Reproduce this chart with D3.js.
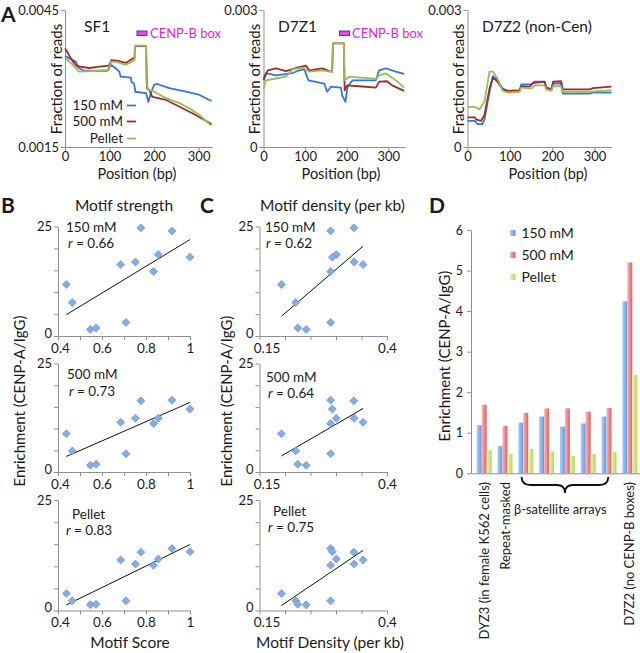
<!DOCTYPE html>
<html><head><meta charset="utf-8">
<script src="https://cdn.jsdelivr.net/npm/d3@7"></script>
<style>body{margin:0;background:#fff} svg{display:block;font-family:Lato,'Open Sans',sans-serif}</style>
</head><body><svg id="c" width="640" height="653"></svg>
<script>
// ---------------- DATA ----------------
const seriesNames = ["150 mM", "500 mM", "Pellet"];
// Panel A: [position (bp), fraction of reads]
const sf1_150 = [[0,0.00349],[24,0.00337],[31,0.00323],[43,0.00317],[95,0.00317],[103,0.00330],[113,0.00323],[122,0.00315],[125,0.00304],[148,0.00302],[149,0.00293],[155,0.00289],[158,0.00271],[182,0.00268],[187,0.00249],[193,0.00268],[200,0.00286],[207,0.00288],[234,0.00279],[272,0.00271],[302,0.00264],[324,0.00253],[329,0.00251]];
const sf1_500 = [[0,0.00366],[5,0.00358],[9,0.00351],[20,0.00334],[27,0.00327],[54,0.00323],[77,0.00326],[99,0.00328],[104,0.00340],[117,0.00339],[137,0.00334],[151,0.00343],[156,0.00345],[157,0.00371],[182,0.00371],[184,0.00279],[189,0.00275],[196,0.00260],[227,0.00253],[257,0.00238],[286,0.00224],[324,0.00203],[329,0.00200]];
const sf1_pel = [[0,0.00345],[13,0.00334],[24,0.00323],[31,0.00315],[77,0.00317],[99,0.00319],[104,0.00337],[117,0.00336],[137,0.00330],[151,0.00337],[156,0.00340],[157,0.00372],[182,0.00372],[183,0.00290],[187,0.00275],[200,0.00271],[227,0.00257],[257,0.00246],[279,0.00235],[302,0.00220],[324,0.00200],[329,0.00198]];
const d7z1_150 = [[0,0.00151],[6,0.00162],[30,0.00157],[70,0.00162],[86,0.00168],[98,0.00170],[108,0.00146],[146,0.00139],[153,0.00121],[162,0.00132],[186,0.00130],[189,0.00113],[197,0.00099],[202,0.00132],[214,0.00146],[270,0.00146],[278,0.00168],[294,0.00172],[318,0.00165],[338,0.00160]];
const d7z1_500 = [[0,0.00146],[10,0.00168],[30,0.00172],[54,0.00166],[78,0.00173],[102,0.00178],[110,0.00168],[141,0.00172],[158,0.00166],[165,0.00165],[167,0.00227],[193,0.00227],[195,0.00124],[201,0.00135],[230,0.00133],[270,0.00130],[278,0.00143],[297,0.00144],[309,0.00135],[338,0.00123]];
const d7z1_pel = [[0,0.00128],[6,0.00146],[30,0.00150],[54,0.00154],[70,0.00170],[94,0.00174],[110,0.00165],[141,0.00168],[158,0.00165],[165,0.00165],[167,0.00227],[193,0.00227],[195,0.00146],[206,0.00154],[270,0.00149],[278,0.00157],[294,0.00161],[318,0.00146],[338,0.00130]];
const d7z2_150 = [[0,0.00057],[17,0.00057],[24,0.00050],[35,0.00050],[40,0.00060],[52,0.00121],[60,0.00155],[71,0.00146],[83,0.00128],[95,0.00123],[123,0.00124],[127,0.00137],[151,0.00137],[158,0.00143],[182,0.00143],[186,0.00130],[198,0.00126],[202,0.00139],[221,0.00139],[225,0.00117],[288,0.00117],[296,0.00119],[340,0.00119]];
const d7z2_500 = [[0,0.00065],[17,0.00065],[21,0.00060],[32,0.00057],[40,0.00070],[52,0.00128],[60,0.00152],[71,0.00143],[83,0.00126],[95,0.00123],[123,0.00124],[127,0.00133],[147,0.00132],[154,0.00140],[182,0.00143],[186,0.00130],[198,0.00126],[202,0.00143],[221,0.00144],[225,0.00126],[288,0.00126],[296,0.00129],[340,0.00132]];
const d7z2_pel = [[0,0.00088],[17,0.00088],[28,0.00082],[40,0.00099],[52,0.00165],[60,0.00165],[71,0.00150],[83,0.00123],[95,0.00119],[123,0.00121],[127,0.00130],[151,0.00128],[158,0.00135],[182,0.00135],[186,0.00126],[198,0.00123],[202,0.00133],[221,0.00133],[225,0.00121],[288,0.00121],[340,0.00124]];
const posTicks = [0, 100, 200, 300];

// Panels B & C: one entry per array
const motifScore   = [0.438, 0.465, 0.547, 0.573, 0.685, 0.709, 0.752, 0.777, 0.834, 0.856, 0.918, 1.0];
const motifDensity = [0.193, 0.221, 0.2415, 0.225, 0.353, 0.2895, 0.3356, 0.335, 0.2895, 0.3006, 0.2895, 0.2928];
const enrich150    = [11.75, 7.65, 1.5, 1.85, 16.3, 3.1, 16.9, 24.7, 14.7, 18.6, 24.0, 18.0];
const enrich500    = [8.8, 4.85, 1.55, 1.8, 11.45, 4.2, 12.4, 16.4, 11.15, 12.4, 16.55, 14.5];
const enrichPellet = [3.85, 2.19, 1.3, 1.4, 11.45, 2.19, 10.5, 13.2, 10.25, 11.65, 14.0, 13.3];
const rScore   = ["0.66", "0.73", "0.83"];
const rDensity = ["0.62", "0.64", "0.75"];
const enrichTicks = [0, 5, 10, 15, 20, 25];
const scoreTicks = [0.4, 0.5, 0.6, 0.7, 0.8, 0.9, 1.0];
const scoreTickLabels = ["0.4", "", "0.6", "", "0.8", "", "1"];
const densityTicks = [0.15, 0.2, 0.25, 0.3, 0.35, 0.4];
const densityTickLabels = ["0.15", "", "", "", "", "0.4"];

// Panel D
const barCategories = ["DYZ3 (in female K562 cells)", "Repeat-masked", "β1", "β2", "β3", "β4", "β5", "D7Z2 (no CENP-B boxes)"];
const barLabels = ["DYZ3 (in female K562 cells)", "Repeat-masked", "", "", "", "", "", "D7Z2 (no CENP-B boxes)"];
const bar150    = [1.19, 0.67, 1.25, 1.40, 1.15, 1.23, 1.40, 4.24];
const bar500    = [1.69, 1.17, 1.49, 1.60, 1.60, 1.52, 1.61, 5.20];
const barPellet = [0.57, 0.48, 0.60, 0.54, 0.43, 0.48, 0.53, 2.43];
const barTicks = [0, 1, 2, 3, 4, 5, 6];

// ---------------- DRAWING ----------------
const svg = d3.select("#c");
const AX = "#8f8f8f", TXT = "#1a1a1a";
const lineColors = ["#2f78e0", "#a32a2a", "#9bbb59"];

function styleAxis(g, fs) {
  g.selectAll(".domain").attr("stroke", AX).attr("stroke-width", 1);
  g.selectAll(".tick line").attr("stroke", AX);
  g.selectAll(".tick text").attr("fill", TXT).style("font-size", (fs || 13) + "px").style("font-family", "Lato, sans-serif");
}
function txt(x, y, s, fs, opts) {
  opts = opts || {};
  const t = svg.append("text").attr("x", x).attr("y", y).text(s)
    .attr("fill", opts.fill || TXT).style("font-size", fs + "px")
    .attr("text-anchor", opts.anchor || "start");
  if (opts.bold) t.style("font-weight", "bold");
  if (opts.rot) t.attr("transform", `rotate(-90,${x},${y})`);
  return t;
}

// ---- Panel A ----
const aPanels = [
  {title: "SF1", titleX: 84, data: [sf1_150, sf1_500, sf1_pel], xmax: 330, x0: 65, x1: 212, ydom: [0.0015, 0.0045], ylabX: 61.5, xlabX: 137, box: [137, 150], legend: true},
  {title: "D7Z1", titleX: 278, data: [d7z1_150, d7z1_500, d7z1_pel], xmax: 340, x0: 263.5, x1: 405, ydom: [0, 0.003], ylabX: 260, xlabX: 341, box: [339.5, 352]},
  {title: "D7Z2 (non-Cen)", titleX: 482, data: [d7z2_150, d7z2_500, d7z2_pel], xmax: 340, x0: 467.5, x1: 611.5, ydom: [0, 0.003], ylabX: 464, xlabX: 548}
];
const aTop = 10, aBot = 147;
aPanels.forEach(p => {
  const x = d3.scaleLinear().domain([0, p.xmax]).range([p.x0, p.x1]);
  const y = d3.scaleLinear().domain(p.ydom).range([aBot, aTop]);
  const gy = svg.append("g").attr("transform", `translate(${p.x0},0)`)
    .call(d3.axisLeft(y).tickValues(p.ydom).tickSize(4).tickSizeOuter(0).tickPadding(2).tickFormat(d => String(d)));
  styleAxis(gy, 13);
  const gx = svg.append("g").attr("transform", `translate(0,${aBot})`)
    .call(d3.axisBottom(x).tickValues(posTicks).tickSize(4).tickSizeOuter(0).tickPadding(1));
  styleAxis(gx, 13);
  const line = d3.line().x(d => x(d[0])).y(d => y(d[1]));
  p.data.forEach((s, i) => {
    svg.append("path").datum(s).attr("d", line).attr("fill", "none")
      .attr("stroke", lineColors[i]).attr("stroke-width", 1.8).attr("stroke-linejoin", "round");
  });
  txt(p.titleX, 32, p.title, 15.5);
  txt(p.ylabX, 79, "Fraction of reads", 15, {anchor: "middle", rot: true});
  txt(p.xlabX, 179, "Position (bp)", 14.5, {anchor: "middle"});
  if (p.box) {
    svg.append("rect").attr("x", p.box[0]).attr("y", 31).attr("width", 10).attr("height", 4.5)
      .attr("fill", "#e545e5").attr("stroke", "#3b3bd0").attr("stroke-width", 1);
    txt(p.box[1], 37.5, "CENP-B box", 13, {fill: "#e11ee1"});
  }
  if (p.legend) {
    const ly = [110, 126, 143];
    seriesNames.forEach((n, i) => {
      txt(123, ly[i], n, 13.5, {anchor: "end"});
      svg.append("line").attr("x1", 127).attr("x2", 136).attr("y1", ly[i] - 4.5).attr("y2", ly[i] - 4.5)
        .attr("stroke", lineColors[i]).attr("stroke-width", 1.8);
    });
  }
});
txt(1, 22, "A", 21, {bold: true});

// ---- Panels B & C ----
const rows = [
  {top: 226.5, bot: 336, ys: enrich150, name: seriesNames[0]},
  {top: 363.5, bot: 472, ys: enrich500, name: seriesNames[1]},
  {top: 500, bot: 610.5, ys: enrichPellet, name: seriesNames[2]}
];
const scPanels = [
  {xs: motifScore, dom: [0.4, 1.0], range: [58, 190], ticks: scoreTicks, tickLabels: scoreTickLabels, r: rScore, firstDx: 2,
   nameX: [66, 67, 72], nameY: [232, 379, 519], rX: [68, 69, 66], rY: [248, 396, 535]},
  {xs: motifDensity, dom: [0.15, 0.4], range: [259.5, 387], ticks: densityTicks, tickLabels: densityTickLabels, r: rDensity, firstDx: 7,
   nameX: [265, 266, 273], nameY: [232, 382, 516], rX: [266, 268, 268], rY: [248, 398, 532]}
];
function diamond(r) { return `M0,${-r}L${r},0L0,${r}L${-r},0Z`; }
scPanels.forEach(p => {
  const x = d3.scaleLinear().domain(p.dom).range(p.range);
  rows.forEach((row, ri) => {
    const y = d3.scaleLinear().domain([0, 25]).range([row.bot, row.top]);
    const gy = svg.append("g").attr("transform", `translate(${p.range[0]},0)`)
      .call(d3.axisLeft(y).tickValues(enrichTicks).tickSize(4).tickSizeOuter(0).tickPadding(2)
        .tickFormat(d => (d === 0 || d === 25) ? String(d) : ""));
    styleAxis(gy, 13);
    gy.selectAll(".tick text").attr("dy", (d) => d === 0 ? "0.1em" : "0.32em");
    const gx = svg.append("g").attr("transform", `translate(0,${row.bot})`)
      .call(d3.axisBottom(x).tickValues(p.ticks).tickSize(4).tickSizeOuter(0).tickPadding(3)
        .tickFormat((d, i) => p.tickLabels[i]));
    styleAxis(gx, 13.5);
    gx.selectAll(".tick text").filter((d, i) => i === 0).attr("dx", p.firstDx);
    // regression line from data
    const xs = p.xs, ys = row.ys;
    const mx = d3.mean(xs), my = d3.mean(ys);
    let sxy = 0, sxx = 0;
    xs.forEach((v, i) => { sxy += (v - mx) * (ys[i] - my); sxx += (v - mx) * (v - mx); });
    const b = sxy / sxx, a = my - b * mx;
    const ex = d3.extent(xs);
    svg.append("line").attr("x1", x(ex[0])).attr("y1", y(a + b * ex[0]))
      .attr("x2", x(ex[1])).attr("y2", y(a + b * ex[1])).attr("stroke", "#111").attr("stroke-width", 1);
    xs.forEach((v, i) => {
      svg.append("path").attr("d", diamond(4)).attr("transform", `translate(${x(v)},${y(ys[i])})`)
        .attr("fill", "#83ade4").attr("stroke", "#6292d3").attr("stroke-width", 0.7);
    });
    txt(p.nameX[ri], p.nameY[ri], row.name, 13.5);
    const t = txt(p.rX[ri], p.rY[ri], "", 13.5);
    t.append("tspan").style("font-style", "italic").text("r");
    t.append("tspan").text(" = " + p.r[ri]);
  });
});
txt(1, 213, "B", 21, {bold: true});
txt(200, 213, "C", 21, {bold: true});
txt(124, 211, "Motif strength", 15.5, {anchor: "middle"});
txt(260, 211, "Motif density (per kb)", 15.5);
txt(130, 648, "Motif Score", 15.5, {anchor: "middle"});
txt(256, 648, "Motif Density (per kb)", 15.5);
txt(25, 401, "Enrichment (CENP-A/IgG)", 15, {anchor: "middle", rot: true});
txt(232, 401, "Enrichment (CENP-A/IgG)", 15, {anchor: "middle", rot: true});

// ---- Panel D ----
const defs = svg.append("defs");
const barGrad = [["gB", "#b0d0f4", "#5d98e4"], ["gR", "#f8b8b8", "#e65c5c"], ["gG", "#e8f5b8", "#b5d65c"]];
barGrad.forEach(g => {
  const lg = defs.append("linearGradient").attr("id", g[0]).attr("x1", "0").attr("x2", "1").attr("y1", "0").attr("y2", "0");
  lg.append("stop").attr("offset", "0").attr("stop-color", g[1]);
  lg.append("stop").attr("offset", "1").attr("stop-color", g[2]);
});
const dx = d3.scaleBand().domain(barCategories).range([471, 643]).paddingInner(0.28).paddingOuter(0.274);
const dxs = d3.scaleBand().domain(seriesNames).range([0, dx.bandwidth()]);
const dy = d3.scaleLinear().domain([0, 6]).range([473.3, 230]);
const barSeries = [bar150, bar500, barPellet];
barSeries.forEach((vals, si) => {
  vals.forEach((v, ci) => {
    svg.append("rect").attr("x", dx(barCategories[ci]) + dxs(seriesNames[si])).attr("y", dy(v))
      .attr("width", dxs.bandwidth()).attr("height", dy(0) - dy(v)).attr("fill", `url(#${barGrad[si][0]})`);
  });
});
const gdy = svg.append("g").attr("transform", "translate(471,0)")
  .call(d3.axisLeft(dy).tickValues(barTicks).tickSize(4).tickSizeOuter(0).tickPadding(4).tickFormat(d3.format("d")));
styleAxis(gdy, 12.5);
const gdx = svg.append("g").attr("transform", `translate(0,${dy(0)})`)
  .call(d3.axisBottom(dx).tickValues([]).tickSizeOuter(0));
styleAxis(gdx);
txt(450, 356, "Enrichment (CENP-A/IgG)", 15, {anchor: "middle", rot: true});
barLabels.forEach((l, i) => {
  if (!l) return;
  const cx = dx(barCategories[i]) + dx.bandwidth() / 2;
  svg.append("text").attr("transform", `translate(${cx},482) rotate(-90)`).attr("text-anchor", "end")
    .attr("dy", "0.35em").attr("fill", TXT).style("font-size", "13px").text(l);
});
// brace for beta-satellite arrays
const bx1 = dx(barCategories[2]) + dx.bandwidth() * 0.22, bx2 = dx(barCategories[6]) + dx.bandwidth() * 0.45;
const bm = (bx1 + bx2) / 2, by0 = 477, by1 = 485, by2 = 493;
svg.append("path").attr("d",
  `M${bx1},${by0} Q${bx1},${by1} ${bx1 + 9},${by1} L${bm - 8},${by1} Q${bm},${by1} ${bm},${by2} Q${bm},${by1} ${bm + 8},${by1} L${bx2 - 9},${by1} Q${bx2},${by1} ${bx2},${by0}`)
  .attr("fill", "none").attr("stroke", "#111").attr("stroke-width", 1.8);
txt(514, 514, "β-satellite arrays", 12.8);
// legend
const legY = [233, 255, 277];
seriesNames.forEach((n, i) => {
  svg.append("rect").attr("x", 510).attr("y", legY[i] - 3).attr("width", 5.5).attr("height", 6).attr("fill", `url(#${barGrad[i][0]})`);
  txt(521.5, legY[i] + 5, n, 14);
});
txt(429, 213, "D", 21, {bold: true});
</script></body></html>
